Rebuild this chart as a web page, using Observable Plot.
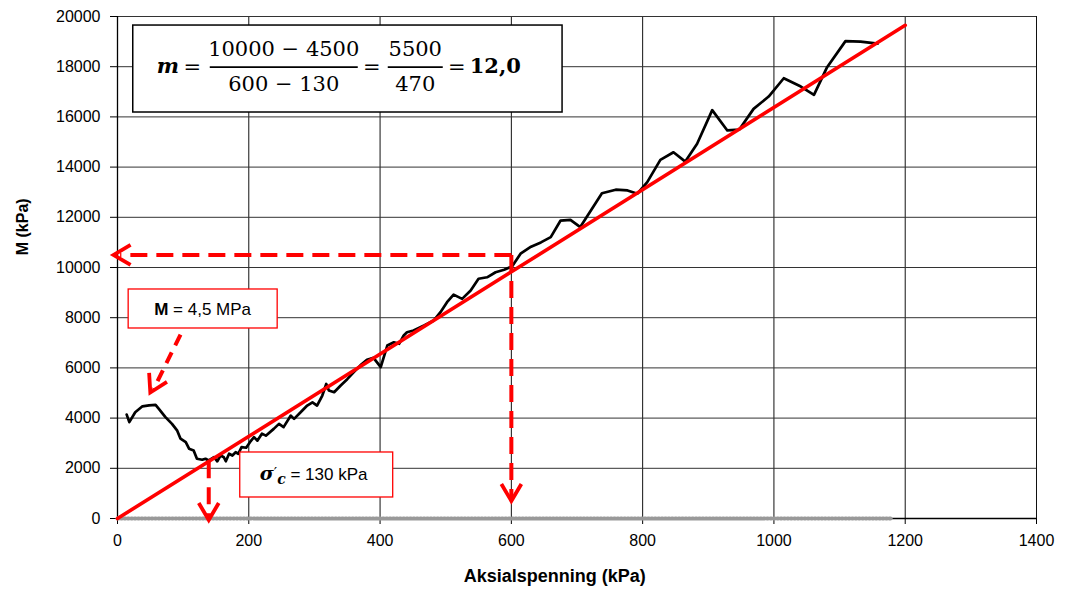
<!DOCTYPE html>
<html>
<head>
<meta charset="utf-8">
<script src="https://cdn.jsdelivr.net/npm/d3@7"></script>
<script src="https://cdn.jsdelivr.net/npm/@observablehq/plot@0.6"></script>
<style>
  html, body { margin: 0; padding: 0; background: #fff; }
  #chart { width: 1070px; height: 589px; }
</style>
</head>
<body>
<div id="chart"></div>
<script>
// ---- Data ----
const stress = [14,18,27,38,48,58,63,73,83,91,96,104,109,116,121,129,134,139,147,152,157,162,165,170,175,180,184,189,196,202,208,213,220,226,238,246,253,264,269,279,289,297,304,312,318,322,330,340,350,360,370,380,390,401,411,421,429,436,441,451,467,482,492,502,512,525,538,550,563,576,589,601,614,630,645,660,675,690,705,738,759,777,792,807,827,847,865,883,906,929,947,969,992,1015,1041,1061,1081,1109,1132,1158];
const modulus = [4140,3840,4235,4470,4510,4530,4370,4040,3770,3500,3180,3040,2780,2710,2380,2340,2380,2310,2440,2280,2510,2440,2280,2580,2510,2640,2580,2840,2820,3050,3240,3100,3380,3300,3570,3770,3640,4100,3970,4230,4500,4630,4500,4900,5360,5100,5030,5300,5550,5830,6100,6320,6400,6030,6890,7020,6960,7290,7420,7490,7690,7890,8220,8620,8920,8750,9080,9550,9610,9810,9910,10040,10550,10830,11000,11210,11870,11900,11610,12960,13100,13070,12940,13400,14290,14590,14220,14930,16270,15460,15490,16320,16810,17540,17210,16880,17980,19020,19000,18920];

const fitStress = [0, 1200];
const fitModulus = [0, 19650];

const zeroStress = [0, 1180];
const zeroModulus = [0, 0];

const xTicks = [0, 200, 400, 600, 800, 1000, 1200, 1400];
const yTicks = [0, 2000, 4000, 6000, 8000, 10000, 12000, 14000, 16000, 18000, 20000];

// reading lines (data units)
const readStress = 600, readModulus = 10500;
const pcStress = 139;

const xTitle = "Aksialspenning (kPa)";
const yTitle = "M (kPa)";
const mBoxBold = "M";
const mBoxRest = " = 4,5 MPa";
const sigmaRest = " = 130 kPa";
const fLHS = "m", fNum1 = "10000 − 4500", fDen1 = "600 − 130", fNum2 = "5500", fDen2 = "470", fResult = "12,0";

// ---- Build tables ----
const curve = stress.map((s, i) => ({s, m: modulus[i]}));
const fit = fitStress.map((s, i) => ({s, m: fitModulus[i]}));
const zeroSeries = zeroStress.map((s, i) => ({s, m: zeroModulus[i]}));

const guides = [
  {x1: readStress, y1: readModulus, x2: 4, y2: readModulus},
  {x1: readStress, y1: readModulus, x2: readStress, y2: 850},
  {x1: pcStress, y1: 2280, x2: pcStress, y2: 60}
];
const mArrow = [{x1: 96, y1: 7330, x2: 55, y2: 5150}];
const heads = [
  {x: -6, y: readModulus, rot: 90},
  {x: readStress, y: 700, rot: 0},
  {x: pcStress, y: -60, rot: 0},
  {x: 50, y: 5020, rot: 27}
];

const chevron = {
  draw(ctx) { ctx.moveTo(-10, -17); ctx.lineTo(0, 0); ctx.lineTo(10, -17); }
};

const RED = "#ff0000";

const chart = Plot.plot({
  width: 1070,
  height: 589,
  marginLeft: 117,
  marginRight: 34,
  marginTop: 16,
  marginBottom: 71,
  x: {domain: [0, 1400]},
  y: {domain: [0, 20000]},
  style: {fontFamily: "'Liberation Sans', Arial, sans-serif", fontSize: "16px", color: "#000", background: "#fff"},
  marks: [
    Plot.gridX(xTicks, {stroke: "#111", strokeOpacity: 1, strokeWidth: 1}),
    Plot.gridY(yTicks, {stroke: "#333", strokeOpacity: 1, strokeWidth: 1}),
    Plot.axisX(xTicks, {tickSize: 6, tickPadding: 10, label: null, tickFormat: d => String(d)}),
    Plot.axisY(yTicks, {tickSize: 7, tickPadding: 10, label: null, tickFormat: d => String(d)}),
    Plot.ruleX([0], {stroke: "#000", strokeWidth: 1.3}),
    Plot.ruleY([0], {stroke: "#000", strokeWidth: 1.3}),
    Plot.line(zeroSeries, {x: "s", y: "m", stroke: "#8a8a8a", strokeWidth: 1}),
    Plot.line(zeroSeries, {x: "s", y: "m", stroke: "#999", strokeWidth: 4, strokeDasharray: "1.2,2.2"}),
    Plot.line(curve, {x: "s", y: "m", stroke: "#000", strokeWidth: 2.7}),
    Plot.line(fit, {x: "s", y: "m", stroke: RED, strokeWidth: 3.6}),
    Plot.link(guides, {x1: "x1", y1: "y1", x2: "x2", y2: "y2", stroke: RED, strokeWidth: 4, strokeDasharray: "17,9"}),
    Plot.link(mArrow, {x1: "x1", y1: "y1", x2: "x2", y2: "y2", stroke: RED, strokeWidth: 4, strokeDasharray: "12,8"}),
    Plot.dot(heads, {x: "x", y: "y", rotate: "rot", symbol: chevron, r: 5, fill: "none", stroke: RED, strokeWidth: 3.8, strokeLinejoin: "miter"})
  ]
});

document.getElementById("chart").appendChild(chart);

// ---- Annotations positioned through the scales ----
const sx = chart.scale("x"), sy = chart.scale("y");
const X = v => sx.apply(v), Y = v => sy.apply(v);
const svg = d3.select(chart);
const g = svg.append("g").attr("text-anchor", "start");

// axis titles
g.append("text")
  .attr("transform", `translate(22,${Y(11600)}) rotate(-90)`)
  .attr("text-anchor", "middle").attr("dominant-baseline", "central")
  .style("font-weight", "bold").style("font-size", "16px")
  .text(yTitle);
g.append("text")
  .attr("x", X(667)).attr("y", 582)
  .attr("text-anchor", "middle")
  .style("font-weight", "bold").style("font-size", "18px")
  .text(xTitle);

// formula box
const fb = {x1: 24, x2: 678, y1: 19640, y2: 16175};
const bx = X(fb.x1), by = Y(fb.y1);
g.append("rect")
  .attr("x", bx).attr("y", by)
  .attr("width", X(fb.x2) - bx).attr("height", Y(fb.y2) - by)
  .attr("fill", "#fff").attr("stroke", "#000").attr("stroke-width", 1.5);
const serif = "'DejaVu Serif', 'Liberation Serif', serif";
const ft = g.append("g").style("font-family", serif).style("font-size", "21px");
ft.append("text").attr("x", bx + 24).attr("y", by + 48).attr("text-anchor", "start")
  .style("font-weight", "bold").style("font-style", "italic").text(fLHS);
ft.append("text").attr("x", bx + 59.5).attr("y", by + 49).attr("text-anchor", "middle").text("=");
ft.append("text").attr("x", bx + 151).attr("y", by + 31).attr("text-anchor", "middle").text(fNum1);
ft.append("line").attr("x1", bx + 77).attr("x2", bx + 225).attr("y1", by + 42).attr("y2", by + 42)
  .attr("stroke", "#000").attr("stroke-width", 1.8);
ft.append("text").attr("x", bx + 151).attr("y", by + 66).attr("text-anchor", "middle").text(fDen1);
ft.append("text").attr("x", bx + 239).attr("y", by + 49).attr("text-anchor", "middle").text("=");
ft.append("text").attr("x", bx + 282.5).attr("y", by + 31).attr("text-anchor", "middle").text(fNum2);
ft.append("line").attr("x1", bx + 255).attr("x2", bx + 310).attr("y1", by + 42).attr("y2", by + 42)
  .attr("stroke", "#000").attr("stroke-width", 1.8);
ft.append("text").attr("x", bx + 282.5).attr("y", by + 66).attr("text-anchor", "middle").text(fDen2);
ft.append("text").attr("x", bx + 324).attr("y", by + 49).attr("text-anchor", "middle").text("=");
ft.append("text").attr("x", bx + 337).attr("y", by + 48).attr("text-anchor", "start")
  .style("font-weight", "bold").text(fResult);

// M box
const mb = {x1: 17, x2: 244, y1: 9124, y2: 7570};
const mx = X(mb.x1), my = Y(mb.y1), mw = X(mb.x2) - mx, mh = Y(mb.y2) - my;
g.append("rect").attr("x", mx).attr("y", my).attr("width", mw).attr("height", mh)
  .attr("fill", "#fff").attr("stroke", RED).attr("stroke-width", 1.3);
const mt = g.append("text").attr("x", mx + mw / 2).attr("y", my + mh / 2 + 6.5)
  .attr("text-anchor", "middle").style("font-size", "17px");
mt.append("tspan").style("font-weight", "bold").text(mBoxBold);
mt.append("tspan").text(mBoxRest);

// sigma box
const sb = {x1: 187, x2: 420, y1: 2630, y2: 837};
const sbx = X(sb.x1), sby = Y(sb.y1), sbw = X(sb.x2) - sbx, sbh = Y(sb.y2) - sby;
g.append("rect").attr("x", sbx).attr("y", sby).attr("width", sbw).attr("height", sbh)
  .attr("fill", "#fff").attr("stroke", RED).attr("stroke-width", 1.3);
const st = g.append("text").attr("x", sbx + 20).attr("y", sby + sbh / 2 + 6)
  .attr("text-anchor", "start").style("font-size", "17px");
st.append("tspan").style("font-family", serif).style("font-weight", "bold").style("font-style", "italic")
  .style("font-size", "19px").text("σ");
st.append("tspan").style("font-family", serif).style("font-size", "15px").attr("dy", -2).text("′");
st.append("tspan").style("font-family", serif).style("font-weight", "bold").style("font-style", "italic")
  .style("font-size", "14px").attr("dy", 6).text("c");
st.append("tspan").attr("dy", -4).text(sigmaRest);
</script>
</body>
</html>
